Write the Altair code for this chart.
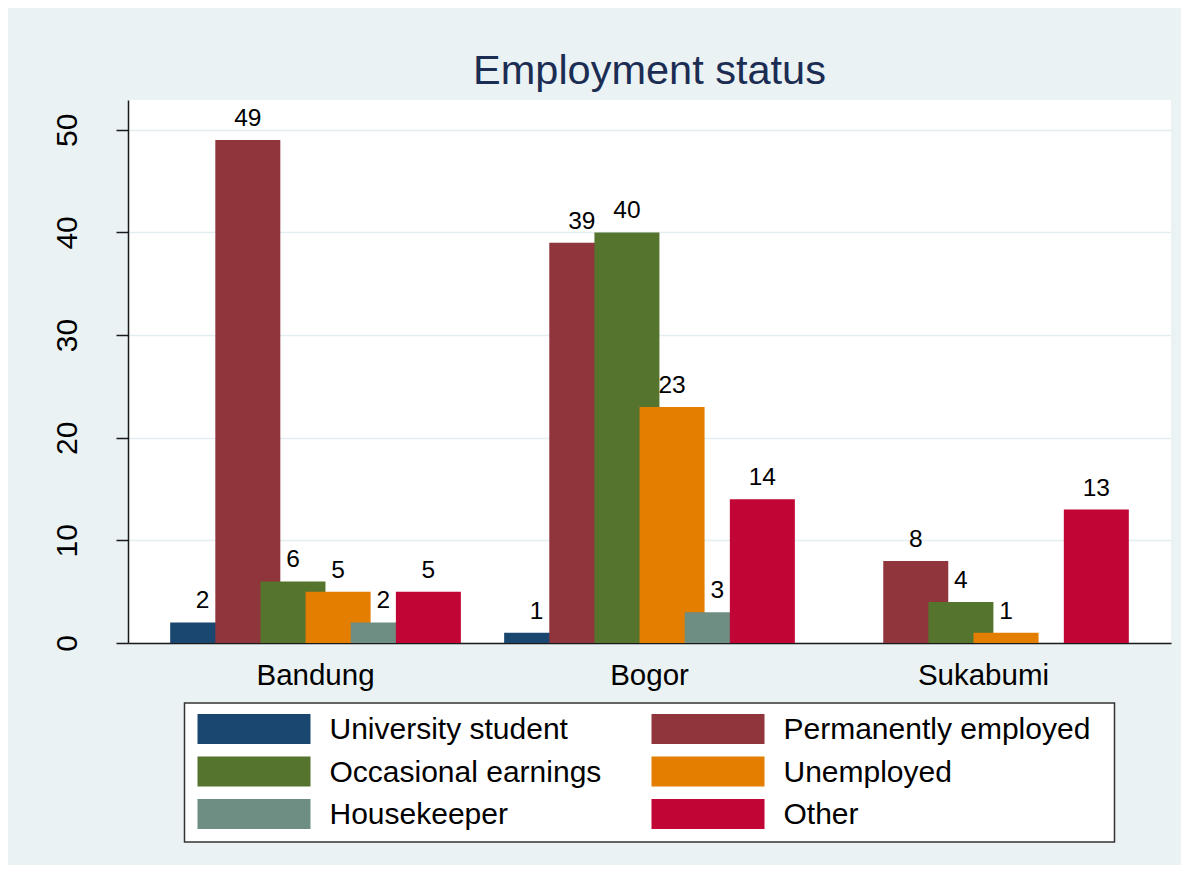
import altair as alt
import pandas as pd

cities = ["Bandung", "Bogor", "Sukabumi"]
categories = ["University student", "Permanently employed", "Occasional earnings",
              "Unemployed", "Housekeeper", "Other"]
bandung = [2, 49, 6, 5, 2, 5]
bogor = [1, 39, 40, 23, 3, 14]
sukabumi = [None, 8, 4, 1, None, 13]
colors = ["#1A476F", "#90353B", "#55752F", "#E37E00", "#6E8E84", "#C10534"]

rows = []
for city, vals in zip(cities, [bandung, bogor, sukabumi]):
    for cat, v in zip(categories, vals):
        if v is not None:
            rows.append({"city": city, "cat": cat, "value": v})
df = pd.DataFrame(rows)

leg_df = pd.DataFrame({"cat": categories,
                       "col": [i % 2 for i in range(len(categories))],
                       "row": [i // 2 for i in range(len(categories))]})

FONT = "Liberation Sans"
color_scale = alt.Scale(domain=categories, range=colors)

base = alt.Chart(df).encode(
    x=alt.X("city:N", sort=cities,
            scale=alt.Scale(paddingInner=0.129, paddingOuter=0.126),
            axis=alt.Axis(title=None, labelAngle=0, ticks=False, labelPadding=18,
                          labelFontSize=29.5, labelColor="black", domainColor="#1a1a1a",
                          domainWidth=1.5, grid=False)),
    xOffset=alt.XOffset("cat:N", sort=categories,
                        scale=alt.Scale(paddingInner=0, paddingOuter=0.222)),
    y=alt.Y("value:Q", stack=None,
            scale=alt.Scale(domain=[0, 52.9], nice=False),
            axis=alt.Axis(title=None, values=[0, 10, 20, 30, 40, 50], labelAngle=270,
                          labelAlign="center", labelBaseline="alphabetic", labelPadding=40,
                          tickSize=12, tickColor="#1a1a1a", tickWidth=1.5,
                          domainColor="#1a1a1a", domainWidth=1.5,
                          labelFontSize=30, labelColor="black",
                          grid=True, gridColor="#E4EDF0", gridWidth=1.6)),
)

bars = base.mark_bar(width=65).encode(
    color=alt.Color("cat:N", scale=color_scale, legend=None)
)
labels = base.mark_text(baseline="alphabetic", dy=-14, fontSize=24.5, color="black").encode(
    text="value:Q"
)

main = alt.layer(bars, labels).properties(
    width=1043, height=543,
    title=alt.Title("Employment status", fontSize=41.5, color="#1C2D54", fontWeight="normal",
                    anchor="middle", baseline="alphabetic", offset=0, dy=25),
)

sw = alt.Chart(leg_df).encode(
    x=alt.X("col:Q", scale=alt.Scale(domain=[-13 / 454, (930 - 13) / 454], nice=False, zero=False),
            axis=None),
    y=alt.Y("row:Q", scale=alt.Scale(domain=[-26 / 42.5, 113 / 42.5], reverse=True, nice=False,
                                     zero=False), axis=None),
)
swatches = sw.mark_point(shape="M-1,-0.2655H1V0.2655H-1Z", filled=True, size=113 ** 2,
                         opacity=1, strokeWidth=0, xOffset=56.5).encode(
    color=alt.Color("cat:N", scale=color_scale, legend=None)
)
texts = sw.mark_text(align="left", baseline="middle", dx=145 - 13, dy=1, fontSize=30,
                     color="black").encode(text="cat:N")

legend = alt.layer(swatches, texts).properties(
    width=930, height=139,
    view=alt.ViewBackground(fill="white", stroke="#333333", strokeWidth=1.5),
)

chart = alt.vconcat(main, legend, spacing=60, center=True, bounds="flush").properties(
    background="#EAF2F3",
    padding={"left": 43, "top": 42, "right": 10, "bottom": 22},
).configure(font=FONT).configure_view(fill="white", strokeWidth=0)

chart.save("out.html", embed_options={"renderer": "svg", "actions": False})
